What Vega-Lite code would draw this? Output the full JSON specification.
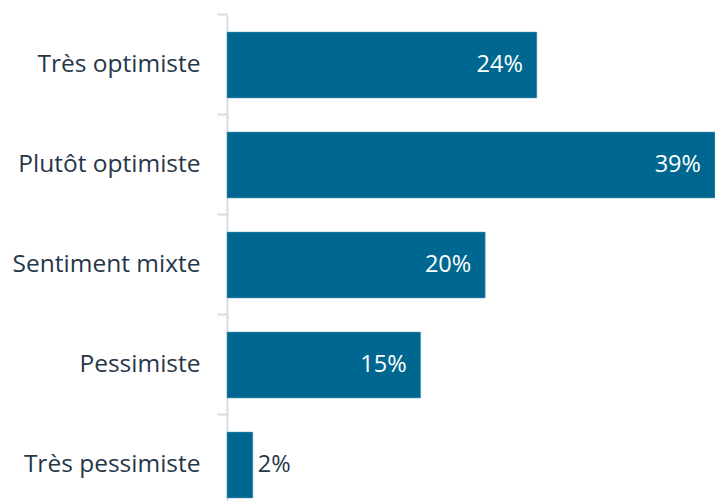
{
  "$schema": "https://vega.github.io/schema/vega-lite/v6.json",
  "autosize": {"type": "none"},
  "padding": {"left": 227, "top": 15, "right": 0, "bottom": 0},
  "width": 488,
  "height": 500,
  "background": "white",
  "config": {"view": {"stroke": null}, "font": "Open Sans"},
  "data": {
    "values": [
      {"cat": "Très optimiste", "v": 24, "lbl": "24%"},
      {"cat": "Plutôt optimiste", "v": 39, "lbl": "39%"},
      {"cat": "Sentiment mixte", "v": 20, "lbl": "20%"},
      {"cat": "Pessimiste", "v": 15, "lbl": "15%"},
      {"cat": "Très pessimiste", "v": 2, "lbl": "2%"}
    ]
  },
  "encoding": {
    "y": {
      "field": "cat", "type": "nominal", "sort": null,
      "scale": {"paddingInner": 0.34, "paddingOuter": 0.17},
      "axis": {
        "title": null, "domainColor": "#d5dde7", "domainWidth": 2,
        "tickColor": "#d5dde7", "tickWidth": 2, "tickSize": 10, "bandPosition": -0.2576,
        "labelFontSize": 24.5, "labelColor": "#26374a", "labelPadding": 17,
        "labelFont": "Open Sans", "labelLimit": 400
      }
    },
    "x": {
      "field": "v", "type": "quantitative",
      "scale": {"domain": [0, 37.8], "clamp": true, "nice": false, "zero": true},
      "axis": null
    }
  },
  "layer": [
    {"mark": {"type": "bar", "color": "#006890", "stroke": "#5e9dbb", "strokeWidth": 0.5}},
    {
      "transform": [{"filter": "datum.v >= 5"}],
      "mark": {"type": "text", "align": "right", "dx": -14, "fontSize": 23.5, "color": "white", "font": "Open Sans"},
      "encoding": {"text": {"field": "lbl"}}
    },
    {
      "transform": [{"filter": "datum.v < 5"}],
      "mark": {"type": "text", "align": "left", "dx": 5, "fontSize": 23.5, "color": "#26374a", "font": "Open Sans"},
      "encoding": {"text": {"field": "lbl"}}
    }
  ]
}
